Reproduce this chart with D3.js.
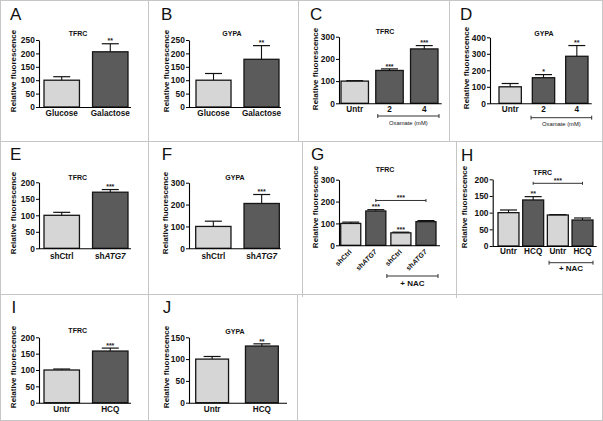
<!DOCTYPE html>
<html><head><meta charset="utf-8">
<script src="https://cdn.jsdelivr.net/npm/d3@7"></script>
<style>
body{margin:0;background:#fff}
svg{display:block}
text{font-family:"Liberation Sans",Arial,Helvetica,sans-serif}
</style>
</head><body>
<svg id="c" width="603" height="421"></svg>
<script>
// ---------------- DATA ----------------
const catsA=["Glucose","Galactose"], valsA=[100,206], errsA=[113,236], starsA=["","**"], ticksA=[0,50,100,150,200,250];
const catsB=["Glucose","Galactose"], valsB=[100,178], errsB=[125,229], starsB=["","**"], ticksB=[0,50,100,150,200,250];
const catsC=["Untr","2","4"], valsC=[100,148,245], errsC=[102,155,260], starsC=["","***","***"], ticksC=[0,100,200,300];
const catsD=["Untr","2","4"], valsD=[100,155,285], errsD=[120,174,350], starsD=["","*","**"], ticksD=[0,100,200,300,400];
const catsE=["shCtrl","shATG7"], valsE=[100,170], errsE=[109,178], starsE=["","***"], ticksE=[0,50,100,150,200];
const catsF=["shCtrl","shATG7"], valsF=[100,205], errsF=[124,246], starsF=["","***"], ticksF=[0,100,200,300];
const catsG=["shCtrl","shATG7","shCtrl","shATG7"], valsG=[100,157,57,108], errsG=[106,163,60,113], starsG=["","***","***",""], ticksG=[0,100,200,300];
const catsH=["Untr","HCQ","Untr","HCQ"], valsH=[100,138,93,78], errsH=[108,148,94,84], starsH=["","**","",""], ticksH=[0,50,100,150,200];
const catsI=["Untr","HCQ"], valsI=[100,158], errsI=[103,167], starsI=["","***"], ticksI=[0,50,100,150,200];
const catsJ=["Untr","HCQ"], valsJ=[100,130], errsJ=[106,135], starsJ=["","**"], ticksJ=[0,50,100,150];

const panelLetters=["A","B","C","D","E","F","G","H","I","J"];
const panelTitles=["TFRC","GYPA","TFRC","GYPA","TFRC","GYPA","TFRC","TFRC","TFRC","GYPA"];
const yAxisTitle="Relative fluorescence";

// group brackets (under axis) and significance brackets (above bars)
const groupBracketsC=[{from:1,to:2,label:"Oxamate (mM)"}];
const groupBracketsD=[{from:1,to:2,label:"Oxamate (mM)"}];
const groupBracketsG=[{from:2,to:3,label:"+ NAC"}];
const groupBracketsH=[{from:2,to:3,label:"+ NAC"}];
const sigBracketsG=[{from:1,to:3,value:205,label:"***"}];
const sigBracketsH=[{from:1,to:3,value:188,label:"***"}];

// ---------------- LAYOUT / STYLE ----------------
const layout={
 A:{x0:39,y0:107,yT:40,xEnd:131,b0:44,b1:128,pad:0.27,tx:78,ty:33,lx:10,ly:20,ytx:13,yty:71,labY:115.5,shade:[0,1]},
 B:{x0:189,y0:107,yT:40,xEnd:281,b0:196,b1:279,pad:0.27,tx:232,ty:33,lx:161,ly:20,ytx:166,yty:71,labY:115.5,shade:[0,1]},
 C:{x0:339,y0:103.3,yT:36.7,xEnd:441.7,b0:341,b1:438,pad:0.21,tx:385,ty:31.3,lx:310,ly:19.5,ytx:315,yty:69,labY:112,shade:[0,1,1],
    gb:{y:116,ty:125,dl:2,dr:1,fs:5.8,fw:"normal"}},
 D:{x0:490,y0:103.3,yT:37.3,xEnd:591.7,b0:499,b1:588,pad:0.33,tx:544,ty:33,lx:460,ly:20,ytx:465.7,yty:68,labY:111.7,shade:[0,1,1],
    gb:{y:117.7,ty:126,dl:-1.3,dr:3.7,fs:5.8,fw:"normal"}},
 E:{x0:39,y0:248.3,yT:182.3,xEnd:131,b0:44,b1:128,pad:0.27,tx:77.7,ty:177.7,lx:10,ly:160,ytx:13.5,yty:213,labY:258.7,shade:[0,1]},
 F:{x0:189,y0:248.3,yT:182.7,xEnd:280.7,b0:195.7,b1:279.3,pad:0.27,tx:235,ty:177.8,lx:161.7,ly:160,ytx:165,yty:213,labY:258.7,shade:[0,1]},
 G:{x0:339,y0:245.3,yT:179.7,xEnd:440,b0:340.7,b1:436,pad:0.2,tx:385,ty:169.8,lx:311,ly:159.5,ytx:315,yty:207,rot:true,shade:[0,1,0,1],
    gb:{y:276,ty:285.5,dl:-4,dr:2,fs:8,fw:"bold"}},
 H:{x0:492.7,y0:246,yT:179.3,xEnd:596.7,b0:498,b1:593,pad:0.15,tx:542.7,ty:172,lx:461,ly:160.5,ytx:464,yty:207,labY:254,shade:[0,1,0,1],
    gb:{y:262.7,ty:270.7,dl:1.7,dr:0,fs:8,fw:"bold"}},
 I:{x0:39,y0:402.7,yT:337.3,xEnd:131,b0:44,b1:128,pad:0.27,tx:77.7,ty:330.7,lx:11.5,ly:313.3,ytx:13.5,yty:367,labY:412,shade:[0,1]},
 J:{x0:189,y0:402.7,yT:337.3,xEnd:287,b0:195.7,b1:278.3,pad:0.34,tx:235,ty:331,lx:162.7,ly:313.3,ytx:166,yty:367,labY:412,shade:[0,1]}
};
const fills=["#d6d6d6","#5b5b5b"];
const frameColor="#c6c6c6";

const panels=[
 {letter:panelLetters[0],title:panelTitles[0],cats:catsA,vals:valsA,errs:errsA,stars:starsA,ticks:ticksA},
 {letter:panelLetters[1],title:panelTitles[1],cats:catsB,vals:valsB,errs:errsB,stars:starsB,ticks:ticksB},
 {letter:panelLetters[2],title:panelTitles[2],cats:catsC,vals:valsC,errs:errsC,stars:starsC,ticks:ticksC,gbr:groupBracketsC},
 {letter:panelLetters[3],title:panelTitles[3],cats:catsD,vals:valsD,errs:errsD,stars:starsD,ticks:ticksD,gbr:groupBracketsD},
 {letter:panelLetters[4],title:panelTitles[4],cats:catsE,vals:valsE,errs:errsE,stars:starsE,ticks:ticksE},
 {letter:panelLetters[5],title:panelTitles[5],cats:catsF,vals:valsF,errs:errsF,stars:starsF,ticks:ticksF},
 {letter:panelLetters[6],title:panelTitles[6],cats:catsG,vals:valsG,errs:errsG,stars:starsG,ticks:ticksG,gbr:groupBracketsG,sbr:sigBracketsG},
 {letter:panelLetters[7],title:panelTitles[7],cats:catsH,vals:valsH,errs:errsH,stars:starsH,ticks:ticksH,gbr:groupBracketsH,sbr:sigBracketsH},
 {letter:panelLetters[8],title:panelTitles[8],cats:catsI,vals:valsI,errs:errsI,stars:starsI,ticks:ticksI},
 {letter:panelLetters[9],title:panelTitles[9],cats:catsJ,vals:valsJ,errs:errsJ,stars:starsJ,ticks:ticksJ}
];

const svg=d3.select("#c");
svg.append("rect").attr("width",603).attr("height",421).attr("fill","#fff");

// ---------------- FRAME ----------------
const fr=svg.append("g").attr("stroke",frameColor).attr("stroke-width",1).attr("fill","none");
fr.append("rect").attr("x",0.5).attr("y",0.5).attr("width",602).attr("height",420);
[[0,141.5,603,141.5],[0,294.5,603,294.5],
 [148.5,0,148.5,141.5],[298.5,0,298.5,141.5],[449.5,0,449.5,141.5],
 [148.5,141.5,148.5,294.5],[302.5,141.5,302.5,297],[456.5,141.5,456.5,298],
 [148.5,294.5,148.5,421],[297.5,294.5,297.5,421]
].forEach(l=>fr.append("line").attr("x1",l[0]).attr("y1",l[1]).attr("x2",l[2]).attr("y2",l[3]));

function setLabel(sel,str){
  sel.text(null);
  const m=str.match(/^(sh)(ATG7)$/);
  if(m){
    sel.append("tspan").text(m[1]);
    sel.append("tspan").attr("font-style","italic").text(m[2]);
  } else sel.text(str);
}

// ---------------- PANELS ----------------
panels.forEach(p=>{
  const L=layout[p.letter];
  const g=svg.append("g");
  const y=d3.scaleLinear().domain([0,d3.max(p.ticks)]).range([L.y0,L.yT]);
  const x=d3.scaleBand().domain(d3.range(p.cats.length)).range([L.b0,L.b1]).paddingInner(L.pad).paddingOuter(0);
  const bw=x.bandwidth();

  g.append("text").attr("x",L.lx).attr("y",L.ly).attr("font-size",17).attr("fill","#111").text(p.letter);
  g.append("text").attr("x",L.tx).attr("y",L.ty+2.5).attr("text-anchor","middle")
    .attr("font-size",7).attr("font-weight","bold").attr("fill","#111").text(p.title);
  g.append("text").attr("transform",`translate(${L.ytx+2.8},${L.yty}) rotate(-90)`).attr("text-anchor","middle")
    .attr("font-size",8).attr("font-weight","bold").attr("fill","#111").text(yAxisTitle);

  g.selectAll("rect.bar").data(p.vals).join("rect").attr("class","bar")
    .attr("x",(d,i)=>x(i)).attr("width",bw)
    .attr("y",d=>y(d)).attr("height",d=>y(0)-y(d))
    .attr("fill",(d,i)=>fills[L.shade[i]]).attr("stroke","#161616").attr("stroke-width",1.3);

  const capW=Math.min(17,bw*0.85);
  p.errs.forEach((e,i)=>{
    const cx=x(i)+bw/2;
    if(e>p.vals[i]){
      g.append("line").attr("x1",cx).attr("x2",cx).attr("y1",y(p.vals[i])).attr("y2",y(e)).attr("stroke","#111").attr("stroke-width",1.1);
      g.append("line").attr("x1",cx-capW/2).attr("x2",cx+capW/2).attr("y1",y(e)).attr("y2",y(e)).attr("stroke","#111").attr("stroke-width",1.2);
    }
    if(p.stars[i]){
      g.append("text").attr("x",cx).attr("y",y(e)-0.3).attr("text-anchor","middle")
        .attr("font-size",7).attr("font-weight","bold").attr("fill","#222").text(p.stars[i]);
    }
  });

  const ya=g.append("g").attr("transform",`translate(${L.x0},0)`)
    .call(d3.axisLeft(y).tickValues(p.ticks).tickSize(3).tickSizeOuter(0).tickPadding(1.2));
  ya.attr("font-family",null).attr("font-size",null);
  ya.select(".domain").attr("stroke","#000").attr("stroke-width",1.1);
  ya.selectAll(".tick line").attr("stroke","#000").attr("stroke-width",1);
  ya.selectAll(".tick text").attr("font-size",8.4).attr("font-weight","bold").attr("fill","#111");

  g.append("line").attr("x1",L.x0).attr("x2",L.xEnd).attr("y1",L.y0+0.5).attr("y2",L.y0+0.5).attr("stroke","#000").attr("stroke-width",1.1);

  const xa=g.append("g").attr("transform",`translate(0,${L.y0})`)
    .call(d3.axisBottom(x).tickSize(0).tickFormat(i=>p.cats[i]));
  xa.attr("font-family",null).attr("font-size",null);
  xa.select(".domain").remove();
  xa.selectAll(".tick text").each(function(i){
    const t=d3.select(this);
    t.attr("font-weight","bold").attr("fill","#111");
    if(L.rot){
      t.attr("font-size",7).attr("x",1.5).attr("y",7).attr("dy",null).attr("text-anchor","end").attr("transform","rotate(-45,1.5,7)");
    } else {
      t.attr("font-size",8.2).attr("y",L.labY-L.y0).attr("dy",null);
    }
    setLabel(t,p.cats[i]);
  });

  (p.gbr||[]).forEach(b=>{
    const xl=x(b.from)+L.gb.dl, xr=x(b.to)+bw+L.gb.dr, yy=L.gb.y;
    const bg=g.append("g").attr("stroke","#333").attr("stroke-width",1);
    bg.append("line").attr("x1",xl).attr("x2",xr).attr("y1",yy).attr("y2",yy);
    bg.append("line").attr("x1",xl).attr("x2",xl).attr("y1",yy-2).attr("y2",yy+2);
    bg.append("line").attr("x1",xr).attr("x2",xr).attr("y1",yy-2).attr("y2",yy+2);
    g.append("text").attr("x",(xl+xr)/2).attr("y",L.gb.ty).attr("text-anchor","middle")
      .attr("font-size",L.gb.fs).attr("font-weight",L.gb.fw).attr("fill","#111").text(b.label);
  });

  (p.sbr||[]).forEach(b=>{
    const xl=x(b.from)+bw/2, xr=x(b.to)+bw/2, yy=y(b.value);
    const bg=g.append("g").attr("stroke","#333").attr("stroke-width",1);
    bg.append("line").attr("x1",xl).attr("x2",xr).attr("y1",yy).attr("y2",yy);
    bg.append("line").attr("x1",xl).attr("x2",xl).attr("y1",yy-1.5).attr("y2",yy+1.5);
    bg.append("line").attr("x1",xr).attr("x2",xr).attr("y1",yy-1.5).attr("y2",yy+1.5);
    g.append("text").attr("x",(xl+xr)/2).attr("y",yy-0.5).attr("text-anchor","middle")
      .attr("font-size",7).attr("font-weight","bold").attr("fill","#222").text(b.label);
  });
});
</script>
</body></html>
